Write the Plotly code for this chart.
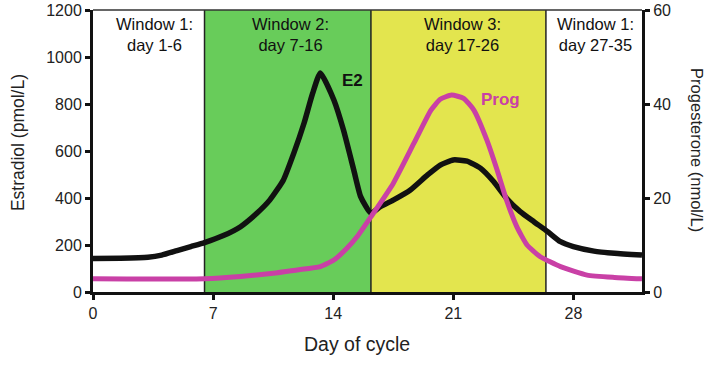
import plotly.graph_objects as go

# Estradiol (pmol/L)
e2_day = [0, 1.6, 3.2, 4.0, 4.9, 5.7, 6.5, 7.6, 8.6, 9.55, 10.3, 11.1, 11.7, 12.3, 12.8, 13.25,
          14.04, 14.6, 15.2, 15.6, 16.2, 16.75, 17.5, 18.5, 19.5, 20.24, 21.0, 21.8, 22.6,
          23.36, 24.1, 24.9, 25.7, 26.5, 27.25, 28.0, 29.2, 30.4, 32.0]
e2_val = [143, 144, 148, 157, 176, 193, 210, 240, 278, 335, 391, 477, 590, 718, 845, 932,
          817, 689, 519, 406, 335, 363, 391, 434, 498, 540, 562, 557, 526,
          469, 399, 342, 299, 257, 214, 193, 174, 165, 157]

# Progesterone (nmol/L)
prog_day = [0, 6.5, 8.6, 10.5, 11.9, 13.25, 14.04, 14.8, 15.4, 16.2, 17.5, 18.7, 19.7, 20.24,
            20.9, 21.6, 22.2, 22.96, 23.55, 24.1, 24.7, 25.3, 26.07, 27.25, 28.8, 30.4, 32.0]
prog_val = [2.8, 2.8, 3.3, 4.0, 4.7, 5.4, 6.8, 9.3, 11.8, 16.0, 23.1, 31.6, 38.7, 41.0,
            41.9, 41.2, 38.7, 32.3, 26.0, 19.6, 13.9, 10.0, 7.5, 5.4, 3.6, 3.1, 2.8]

# Windows
win_start = [0, 6.5, 16.2, 26.4]
win_end = [6.5, 16.2, 26.4, 32]
win_label_x = [3.6, 11.5, 21.55, 29.3]
win_labels = ["Window 1:<br>day 1-6", "Window 2:<br>day 7-16",
              "Window 3:<br>day 17-26", "Window 1:<br>day 27-35"]
win_colors = ["rgba(0,0,0,0)", "#68CC5A", "#E3E54E", "rgba(0,0,0,0)"]

x_ticks = [0, 7, 14, 21, 28]
y1_ticks = [0, 200, 400, 600, 800, 1000, 1200]
y2_ticks = [0, 20, 40, 60]

FONT = "Liberation Sans, Arial, sans-serif"
MAGENTA = "#C940A6"

fig = go.Figure()

shapes = []
for s, e, c in zip(win_start, win_end, win_colors):
    shapes.append(dict(type="rect", xref="x", yref="paper", x0=s, x1=e, y0=0, y1=1,
                       fillcolor=c, line=dict(width=0), layer="below"))
for b in win_start[1:]:
    shapes.append(dict(type="line", xref="x", yref="paper", x0=b, x1=b, y0=0, y1=1,
                       line=dict(color="#222", width=1.5), layer="below"))
shapes.append(dict(type="line", xref="paper", yref="paper", x0=0, x1=1, y0=1, y1=1,
                   line=dict(color="#333", width=1.5), layer="below"))

fig.add_trace(go.Scatter(x=prog_day, y=prog_val, mode="lines", yaxis="y2",
                         line=dict(color=MAGENTA, width=5, shape="spline", smoothing=0.5),
                         showlegend=False, hoverinfo="skip"))
fig.add_trace(go.Scatter(x=e2_day, y=e2_val, mode="lines",
                         line=dict(color="#111", width=5.5, shape="spline", smoothing=0.5),
                         showlegend=False, hoverinfo="skip"))

annotations = []
for lx, t in zip(win_label_x, win_labels):
    annotations.append(dict(x=lx, y=0.99, xref="x", yref="paper", text=t,
                            showarrow=False, yanchor="top", align="center",
                            font=dict(family=FONT, size=16.5, color="#111")))
annotations.append(dict(x=15.1, y=902, xref="x", yref="y", text="<b>E2</b>", showarrow=False,
                        font=dict(family=FONT, size=17, color="#111")))
annotations.append(dict(x=23.75, y=40.9, xref="x", yref="y2", text="<b>Prog</b>", showarrow=False,
                        font=dict(family=FONT, size=17, color=MAGENTA)))
# axis titles
annotations.append(dict(x=-0.1366, y=0.528, xref="paper", yref="paper", text="Estradiol (pmol/L)",
                        textangle=-90, showarrow=False, xanchor="center", yanchor="middle",
                        font=dict(family=FONT, size=17.5, color="#222")))
annotations.append(dict(x=1.100, y=0.5035, xref="paper", yref="paper", text="Progesterone (nmol/L)",
                        textangle=90, showarrow=False, xanchor="center", yanchor="middle",
                        font=dict(family=FONT, size=16.5, color="#222")))
annotations.append(dict(x=0.481, y=-0.184, xref="paper", yref="paper", text="Day of cycle",
                        showarrow=False, xanchor="center", yanchor="middle",
                        font=dict(family=FONT, size=19.5, color="#222")))

axis_common = dict(showline=True, linecolor="#111", linewidth=3, ticks="outside",
                   ticklen=5, tickwidth=3, tickcolor="#111", showgrid=False, zeroline=False,
                   automargin=False,
                   tickfont=dict(family=FONT, size=16, color="#222"))

fig.update_layout(
    width=714, height=376,
    margin=dict(l=93, r=72, t=10, b=84),
    paper_bgcolor="white", plot_bgcolor="white",
    shapes=shapes, annotations=annotations,
    xaxis=dict(range=[0, 32], tickvals=x_ticks, **axis_common),
    yaxis=dict(range=[0, 1200], tickvals=y1_ticks, **axis_common),
    yaxis2=dict(range=[0, 60], tickvals=y2_ticks, overlaying="y", side="right", **axis_common),
)

fig.write_html("out.html", config={"displayModeBar": False},
               post_script="document.body.style.margin='0';")
